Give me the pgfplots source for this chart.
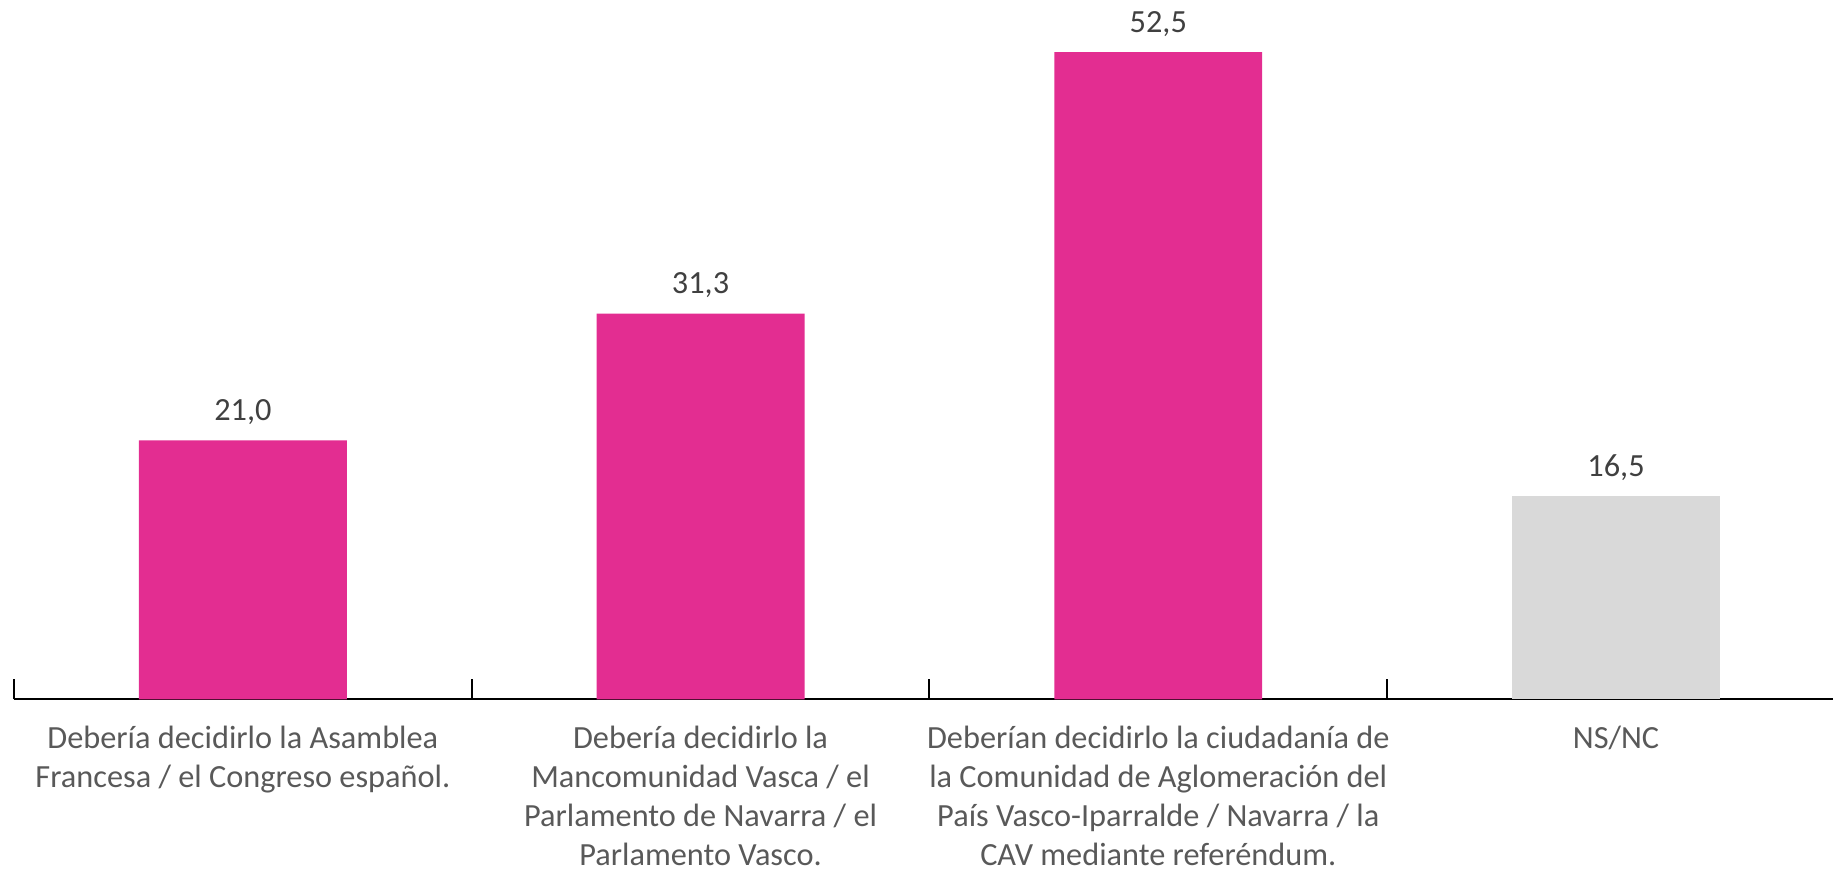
\documentclass[border=0pt]{standalone}
\usepackage{pgfplots}
\pgfplotsset{compat=1.18}
\usepackage{fontspec}
\setmainfont{Carlito}
\definecolor{barpink}{HTML}{E32D91}
\definecolor{bargray}{HTML}{D9D9D9}
\definecolor{lbl}{HTML}{595959}
\definecolor{val}{HTML}{404040}
\begin{document}
\begin{tikzpicture}
\begin{axis}[
    scale only axis,
    width=182mm, height=69.8mm,
    xmin=-0.5, xmax=3.474,
    ymin=0, ymax=56.6,
    axis x line=bottom,
    axis y line=none,
    axis line style={black, line width=0.6pt, -},
    ybar, bar width=20.8mm, bar shift=0pt,
    xtick={0,1,2,3},
    major tick length=0pt,
    xticklabels={
        {Debería decidirlo la Asamblea\\Francesa / el Congreso español.},
        {Debería decidirlo la\\Mancomunidad Vasca / el\\Parlamento de Navarra / el\\Parlamento Vasco.},
        {Deberían decidirlo la ciudadanía de\\la Comunidad de Aglomeración del\\País Vasco-Iparralde / Navarra / la\\CAV mediante referéndum.},
        {NS/NC}},
    xticklabel style={align=center, text=lbl, font=\fontsize{9.2}{11.1}\selectfont, inner sep=0.45mm, yshift=-2.15mm},
    extra x ticks={-0.5,0.5,1.5,2.5},
    extra x tick labels={},
    extra x tick style={major tick length=2mm, tick align=inside, tick style={black, line width=0.6pt}},
    nodes near coords,
    /pgf/number format/.cd, fixed, fixed zerofill, precision=1, use comma, assume math mode=true,
    /pgfplots/.cd,
    every node near coord/.append style={font=\fontsize{9.2}{11.1}\selectfont, text=val, yshift=0.3mm},
    clip=false,
]
\addplot[fill=barpink, draw=none] coordinates {(0,21.0) (1,31.3) (2,52.5)};
\addplot[fill=bargray, draw=none] coordinates {(3,16.5)};
\end{axis}
\path (current axis.south west) ++(-1.4mm,0) coordinate (m);
\path (m) -- (current axis.south west);
\end{tikzpicture}
\end{document}
